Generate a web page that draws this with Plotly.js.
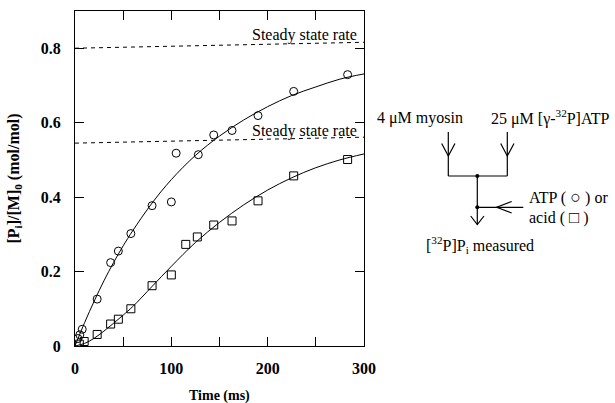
<!DOCTYPE html>
<html><head><meta charset="utf-8">
<script src="https://cdn.plot.ly/plotly-3.0.1.min.js"></script>
<style>html,body{margin:0;padding:0;background:#fff}#chart{width:615px;height:403px}</style>
</head><body><div id="chart"></div>
<script>
// Data
const atpTime = [3, 5, 7.5, 23, 37, 45, 58, 80, 100, 105, 128, 144, 163, 190, 227, 283];
const atpPi   = [0.02, 0.03, 0.045, 0.126, 0.224, 0.255, 0.302, 0.377, 0.387, 0.518, 0.514, 0.567, 0.579, 0.619, 0.684, 0.729];
const acidTime = [4.5, 9.5, 23, 37, 45, 58, 80, 100, 115, 127, 144, 163, 190, 227, 283];
const acidPi   = [0.005, 0.012, 0.031, 0.059, 0.072, 0.100, 0.162, 0.191, 0.273, 0.293, 0.325, 0.336, 0.390, 0.457, 0.501];
const fitTime = [0, 10, 20, 30, 40, 50, 60, 80, 100, 125, 150, 175, 200, 225, 250, 275, 300];
const atpFit  = [0, 0.063, 0.121, 0.175, 0.224, 0.269, 0.310, 0.384, 0.447, 0.512, 0.564, 0.607, 0.643, 0.673, 0.696, 0.717, 0.731];
const acidFit = [0, 0.007, 0.021, 0.040, 0.061, 0.083, 0.106, 0.160, 0.214, 0.278, 0.332, 0.379, 0.419, 0.452, 0.479, 0.500, 0.516];
const steadyTime = [0, 300];
const atpSteady  = [0.800, 0.816];
const acidSteady = [0.545, 0.561];
const steadyLabel = "Steady state rate";
const xTickVals = [0, 100, 200, 300];
const xTickText = ["0", "100", "200", "300"];
const xMinorVals = [50, 150, 250];
const yTickVals = [0, 0.2, 0.4, 0.6, 0.8];
const yTickText = ["0", "0.2", "0.4", "0.6", "0.8"];

const serif = "'Liberation Serif', 'Times New Roman', Times, 'DejaVu Serif', serif";
const black = "#000";

// pixel -> paper helpers for the scheme drawn at the right
const L = 75, R = 364, T = 11, B = 346;
const X = px => (px - L) / (R - L);
const Y = py => (B - py) / (B - T);
const line = (x0, y0, x1, y1) => ({type: "line", xref: "paper", yref: "paper",
  x0: X(x0), y0: Y(y0), x1: X(x1), y1: Y(y1), line: {color: black, width: 1.2}});
const poly = pts => ({type: "path", xref: "paper", yref: "paper",
  path: "M " + pts.map(p => X(p[0]) + "," + Y(p[1])).join(" L "), line: {color: black, width: 1.2}});
const dot = (cx, cy) => ({type: "circle", xref: "paper", yref: "paper",
  x0: X(cx - 2), x1: X(cx + 2), y0: Y(cy + 2), y1: Y(cy - 2), fillcolor: black, line: {color: black, width: 0}});

const traces = [
  {x: steadyTime, y: atpSteady, mode: "lines", line: {color: black, width: 1, dash: "4px,4px"}, hoverinfo: "skip"},
  {x: steadyTime, y: acidSteady, mode: "lines", line: {color: black, width: 1, dash: "4px,4px"}, hoverinfo: "skip"},
  {x: fitTime, y: atpFit, mode: "lines", line: {color: black, width: 1, shape: "spline"}},
  {x: fitTime, y: acidFit, mode: "lines", line: {color: black, width: 1, shape: "spline"}},
  {x: atpTime, y: atpPi, mode: "markers", marker: {symbol: "circle-open", size: 8, color: black, line: {width: 1, color: black}}},
  {x: acidTime, y: acidPi, mode: "markers", marker: {symbol: "square-open", size: 8, color: black, line: {width: 1, color: black}}}
];

const axisCommon = {showgrid: false, zeroline: false, showline: true, mirror: "ticks", linecolor: black, linewidth: 1.2,
  ticks: "inside", ticklen: 9, tickwidth: 1.2, tickcolor: black,
  tickfont: {family: serif, size: 16, color: black, weight: "bold"}};

const annText = (text, px, py, xanchor, size) => ({text: text, xref: "paper", yref: "paper", x: X(px), y: Y(py),
  xanchor: xanchor, yanchor: "middle", showarrow: false, font: {family: serif, size: size || 16, color: black}});

const layout = {
  width: 615, height: 403,
  margin: {l: L, r: 615 - R, t: T, b: 403 - B},
  paper_bgcolor: "#fff", plot_bgcolor: "#fff",
  font: {family: serif, color: black},
  showlegend: false,
  xaxis: Object.assign({}, axisCommon, {range: [0, 300], tickvals: xTickVals, ticktext: xTickText, ticklabelstandoff: 8,
    minor: {tickvals: xMinorVals, ticks: "inside", ticklen: 9, tickwidth: 1.2, tickcolor: black, showgrid: false}}),
  yaxis: Object.assign({}, axisCommon, {range: [0, 0.9], tickvals: yTickVals, ticktext: yTickText, ticklabelstandoff: 10}),
  annotations: [
    {text: steadyLabel, x: 295, y: 0.836, xref: "x", yref: "y", xanchor: "right", yanchor: "middle", showarrow: false,
      font: {family: serif, size: 16, color: black}},
    {text: steadyLabel, x: 295, y: 0.578, xref: "x", yref: "y", xanchor: "right", yanchor: "middle", showarrow: false,
      font: {family: serif, size: 16, color: black}},
    {text: "<b>Time (ms)</b>", xref: "paper", yref: "paper", x: 0.5, y: Y(396), xanchor: "center", yanchor: "middle",
      showarrow: false, font: {family: serif, size: 14, color: black}},
    {text: "<b>[P<sub>i</sub>]/[M]<sub>0</sub> (mol/mol)</b>", xref: "paper", yref: "paper", x: X(14), y: 0.5,
      xanchor: "center", yanchor: "middle", textangle: -90, showarrow: false, font: {family: serif, size: 16, color: black}},
    annText("4 μM myosin", 420, 118, "center"),
    annText("25 μM [γ-<sup>32</sup>P]ATP", 550, 118, "center"),
    annText("ATP ( <span style=\"font-size:18px\">○</span> ) or", 527, 197, "left"),
    annText("acid ( <span style=\"font-size:17px\">□</span> )", 527, 217, "left"),
    annText("[<sup>32</sup>P]P<sub>i</sub> measured", 480, 245, "center")
  ],
  shapes: [
    line(448.3, 132, 448.3, 176),
    poly([[441.7, 143.5], [448.3, 156], [455, 143.5]]),
    line(507.3, 132, 507.3, 176),
    poly([[500.7, 143.5], [507.3, 156], [514, 143.5]]),
    line(448.3, 176, 507.3, 176),
    line(477.3, 176, 477.3, 224.5),
    poly([[470.7, 216], [477.3, 224.5], [484, 216]]),
    line(477.3, 207.3, 523.3, 207.3),
    poly([[511.7, 201.5], [496.7, 207.3], [511.7, 213]]),
    dot(477.3, 176),
    dot(477.3, 207.3)
  ]
};

Plotly.newPlot("chart", traces, layout, {displayModeBar: false});
</script>
</body></html>
